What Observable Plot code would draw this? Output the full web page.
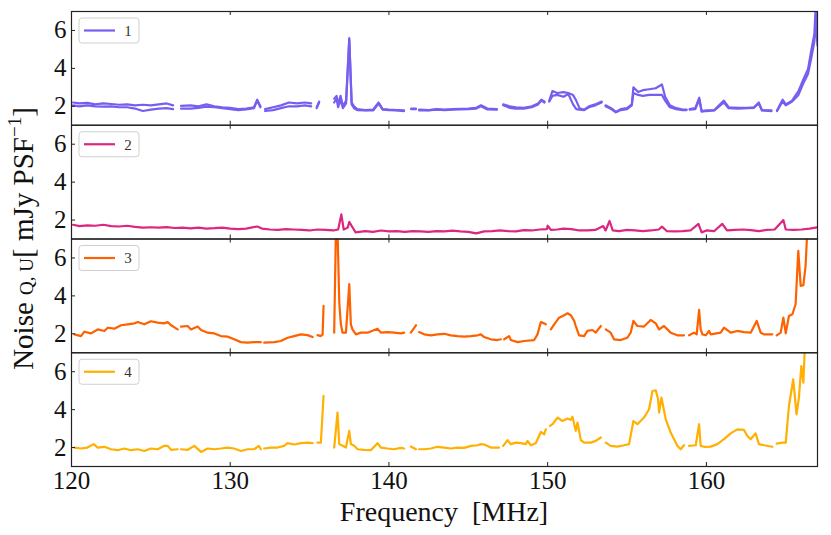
<!DOCTYPE html>
<html><head><meta charset="utf-8">
<script src="https://cdn.jsdelivr.net/npm/d3@7"></script>
<script src="https://cdn.jsdelivr.net/npm/@observablehq/plot@0.6"></script>
<style>body{margin:0;background:#fff} #chart svg{display:block}</style>
</head><body><div id="chart"></div>
<script>
const panels = ["1", "2", "3", "4"];
const colors = ["#785EF0", "#DC267F", "#FE6100", "#FFB000"];
const xTicks = [120, 130, 140, 150, 160];
const yTicks = [2, 4, 6];

// Panel 1 (two traces)
const freq1 = [120.1,120.5,121.0,121.5,122.0,122.5,123.0,123.5,124.0,124.5,125.0,125.5,126.0,126.4,126.7,126.9,127.5,128.0,128.5,129.0,129.5,130.0,130.5,131.0,131.5,131.7,131.9,132.0,132.2,132.7,133.2,133.7,134.2,134.7,135.1,135.3,135.45,135.6,135.7,136.55,136.7,136.8,136.95,137.1,137.3,137.5,137.65,137.8,138.0,138.5,139.0,139.35,139.6,140.0,140.5,140.95,141.1,141.4,141.7,141.8,141.9,142.5,143.0,143.5,144.0,144.5,145.0,145.5,145.8,146.2,146.8,146.95,147.2,147.6,148.0,148.5,149.0,149.4,149.6,149.8,149.95,150.1,150.3,150.6,151.0,151.3,151.6,151.8,152.0,152.3,152.6,153.0,153.4,153.5,153.65,154.0,154.3,154.6,155.0,155.3,155.4,155.7,156.0,156.4,156.8,157.2,157.4,157.7,158.1,158.5,158.75,158.85,158.95,159.3,159.55,159.7,160.0,160.5,161.1,161.4,162.0,162.6,163.0,163.3,163.5,164.1,164.25,164.45,164.8,165.0,165.4,165.8,166.1,166.4,166.6,166.8,166.9,167.0];
const noise1a = [2.2,2.15,2.18,2.1,2.15,2.12,2.08,2.1,2.05,2.08,2.05,2.1,2.15,2.05,null,2.02,2.05,2.0,2.1,2.0,1.95,1.92,1.85,1.88,1.95,2.35,2.0,null,1.85,1.95,2.05,2.2,2.15,2.2,2.15,null,1.95,2.25,null,2.4,2.55,2.1,2.55,2.0,2.3,5.6,2.2,2.0,1.85,1.8,1.82,2.2,1.85,1.82,1.8,1.78,null,1.88,1.88,null,1.82,1.8,1.85,1.83,1.85,1.87,1.88,1.92,2.05,1.88,1.85,null,2.1,2.0,1.95,1.92,2.0,2.15,2.35,2.25,null,2.3,2.8,2.7,2.75,2.7,2.6,2.3,1.9,1.82,2.0,2.1,2.25,null,2.05,1.9,1.7,1.85,1.9,2.1,3.0,2.75,2.85,2.9,2.95,3.15,2.5,2.05,1.9,1.83,1.82,null,1.85,1.9,2.45,1.75,1.78,1.8,2.3,1.95,1.92,1.92,1.95,2.2,1.8,1.78,null,1.78,2.35,2.1,2.3,2.8,3.4,3.95,4.9,5.8,7.5,5.5];
const noise1b = [2.05,2.0,2.05,2.0,1.98,2.0,1.95,1.95,1.88,1.75,1.82,1.88,1.9,1.85,null,1.88,1.88,1.92,1.98,1.95,1.9,1.85,1.8,1.83,1.9,2.3,1.95,null,1.75,1.8,1.9,2.0,2.0,2.05,2.0,null,1.9,2.2,null,2.2,2.4,1.95,2.35,1.9,2.15,5.5,2.1,1.9,1.8,1.78,1.78,2.15,1.82,1.8,1.78,1.75,null,1.85,1.85,null,1.78,1.78,1.82,1.8,1.82,1.83,1.85,1.88,2.0,1.83,1.82,null,2.05,1.92,1.88,1.88,1.95,2.1,2.3,2.2,null,2.25,2.55,2.6,2.5,2.65,2.1,1.85,1.82,1.8,1.95,2.05,2.2,null,2.0,1.85,1.68,1.8,1.85,2.05,2.7,2.6,2.55,2.6,2.6,2.6,2.3,1.95,1.85,1.8,1.8,null,1.82,1.85,2.35,1.72,1.75,1.78,2.2,1.9,1.88,1.9,1.92,2.15,1.78,1.75,null,1.75,2.25,2.05,2.25,2.6,3.2,3.7,4.5,5.4,6.5,5.2];

// Panel 2
const freq2 = [120.1,120.5,121.0,121.5,122.0,122.5,123.0,123.5,124.0,124.5,125.0,125.5,126.0,126.5,127.0,127.5,128.0,128.5,129.0,129.5,130.0,130.5,131.0,131.7,132.0,132.5,133.0,133.5,134.0,134.5,135.0,135.5,136.0,136.5,136.8,137.0,137.15,137.4,137.5,137.7,137.9,138.5,139.0,139.5,140.0,140.5,141.0,141.5,142.0,142.5,143.0,143.5,144.0,144.5,145.0,145.5,146.0,146.5,147.0,147.5,148.0,148.5,149.0,149.5,149.95,150.0,150.2,150.6,151.0,151.5,152.0,152.5,153.0,153.5,153.65,153.9,154.1,154.5,155.0,155.5,156.0,156.5,157.0,157.2,157.5,158.0,158.5,159.0,159.5,159.7,160.0,160.5,161.0,161.3,161.8,162.3,162.8,163.3,163.8,164.3,164.85,165.0,165.5,166.0,166.5,167.0];
const noise2 = [1.75,1.68,1.72,1.7,1.75,1.68,1.66,1.7,1.64,1.6,1.62,1.6,1.63,1.58,1.6,1.56,1.6,1.55,1.57,1.6,1.55,1.52,1.55,1.66,1.55,1.5,1.48,1.52,1.5,1.48,1.45,1.5,1.48,1.45,1.5,2.3,1.5,1.6,1.9,1.62,1.35,1.42,1.38,1.45,1.4,1.42,1.38,1.42,1.4,1.38,1.42,1.4,1.44,1.4,1.38,1.3,1.4,1.42,1.45,1.42,1.4,1.47,1.45,1.5,1.52,1.7,1.48,1.5,1.55,1.52,1.45,1.45,1.48,1.68,1.45,1.95,1.45,1.42,1.48,1.45,1.42,1.45,1.5,1.65,1.42,1.4,1.42,1.45,1.8,1.35,1.45,1.42,1.8,1.45,1.48,1.5,1.47,1.42,1.48,1.5,2.0,1.5,1.48,1.5,1.55,1.62];

// Panel 3
const freq3 = [120.18,120.6,120.81,121.23,121.65,122.07,122.28,122.7,123.12,123.54,123.96,124.17,124.59,125.0,125.43,125.85,126.06,126.27,126.69,126.8,126.9,127.32,127.53,127.95,128.16,128.58,129.0,129.41,129.83,130.25,130.67,131.09,131.51,131.93,132.05,132.14,132.77,133.19,133.61,134.03,134.45,134.87,135.19,135.35,135.5,135.71,135.82,135.88,136.2,136.55,136.66,136.76,136.87,136.97,137.08,137.29,137.5,137.6,137.7,137.92,138.23,138.65,139.28,139.49,139.91,140.33,140.75,140.96,141.2,141.38,141.7,141.8,141.9,142.22,142.64,143.06,143.48,143.9,144.32,144.74,145.16,145.58,145.79,146.0,146.42,146.84,147.05,147.15,147.26,147.57,147.68,148.1,148.52,148.94,149.15,149.36,149.57,149.78,149.88,150.0,150.2,150.41,150.72,151.04,151.25,151.46,151.67,151.77,151.98,152.3,152.5,152.82,153.03,153.35,153.5,153.66,153.97,154.18,154.6,155.02,155.23,155.4,155.65,156.07,156.49,156.81,157.02,157.33,157.75,158.17,158.59,158.75,158.91,159.22,159.39,159.54,159.64,159.75,159.96,160.17,160.27,160.9,161.11,161.53,161.95,162.37,162.79,163.17,163.42,163.63,164.15,164.3,164.43,164.68,164.85,165.0,165.2,165.42,165.62,165.79,165.94,166.11,166.25,166.36];
const noise3 = [1.97,1.88,2.11,2.02,2.23,2.15,2.32,2.27,2.45,2.5,2.55,2.62,2.5,2.66,2.59,2.55,2.62,2.45,2.23,null,2.38,2.41,2.23,2.38,2.2,2.06,2.02,1.88,1.85,1.71,1.56,1.53,1.56,1.56,null,1.53,1.56,1.62,1.79,1.88,1.97,1.93,1.83,null,1.93,1.88,1.97,3.47,null,2.06,7.5,7.5,3.65,2.5,2.06,2.06,4.62,2.5,2.23,1.97,2.06,2.06,2.27,2.06,2.09,2.06,2.02,2.06,null,2.06,2.45,null,2.09,1.97,1.92,1.97,2.0,1.92,1.88,1.85,1.88,1.92,1.97,1.83,1.71,1.67,1.71,null,1.71,1.88,1.67,1.56,1.62,1.65,1.67,1.97,2.62,2.55,2.5,null,2.23,2.5,2.85,2.98,3.08,2.98,2.68,2.41,1.92,1.88,2.15,2.2,2.06,2.41,null,2.23,2.06,1.71,1.67,1.79,2.06,2.68,2.41,2.38,2.73,2.55,2.23,2.41,2.06,1.92,1.92,null,1.92,2.06,1.97,3.26,2.23,1.97,1.92,2.15,1.97,2.06,2.32,2.06,2.15,2.09,2.06,2.68,2.06,1.97,1.97,null,1.92,2.06,2.85,2.02,2.94,3.03,3.56,6.38,4.53,4.56,5.59,7.5];

// Panel 4
const freq4 = [120.18,120.6,121.0,121.4,121.65,122.07,122.49,122.91,123.33,123.75,124.17,124.59,125.0,125.43,125.85,126.06,126.27,126.69,126.8,126.9,127.32,127.74,128.16,128.58,129.0,129.41,129.83,130.25,130.67,131.09,131.51,131.8,131.93,132.05,132.14,132.56,132.98,133.4,133.61,134.03,134.45,134.87,135.19,135.35,135.5,135.71,135.88,136.2,136.55,136.76,136.87,137.08,137.29,137.5,137.6,137.81,138.02,138.44,138.86,139.28,139.49,139.91,140.33,140.75,140.96,141.2,141.38,141.7,141.8,141.9,142.22,142.64,143.06,143.48,143.9,144.32,144.74,145.16,145.58,145.79,146.0,146.42,146.94,147.05,147.2,147.47,147.68,147.99,148.31,148.62,148.73,148.94,149.25,149.57,149.78,149.88,150.0,150.15,150.3,150.62,150.93,151.25,151.46,151.56,151.77,151.88,152.09,152.3,152.72,153.03,153.35,153.5,153.66,153.97,154.39,154.81,155.13,155.4,155.65,156.07,156.39,156.6,156.81,156.96,157.02,157.17,157.44,157.75,158.17,158.38,158.59,158.75,158.91,159.33,159.54,159.64,159.85,160.27,160.69,161.11,161.53,161.95,162.37,162.58,162.79,163.1,163.31,163.63,164.15,164.3,164.43,164.79,165.0,165.2,165.47,165.68,165.83,165.98,166.11,166.21];
const noise4 = [2.0,1.95,2.0,2.18,2.0,2.04,1.91,1.86,1.95,1.86,1.91,1.82,1.95,1.91,2.09,2.09,1.88,1.91,null,1.91,1.88,2.09,1.77,1.95,1.91,1.95,2.0,1.95,1.82,1.91,1.91,2.09,1.91,null,1.95,2.0,2.0,2.09,2.23,2.16,2.23,2.26,2.23,null,2.26,2.26,4.72,null,2.0,3.84,2.18,2.09,2.0,2.88,2.18,2.09,1.91,1.88,1.86,2.23,2.0,1.95,1.91,1.98,1.95,null,2.05,1.91,null,1.91,1.91,1.95,2.04,2.0,1.95,2.0,1.98,2.09,2.12,2.18,2.16,2.0,2.0,null,2.09,2.39,2.18,2.26,2.23,2.18,2.35,2.12,2.23,2.82,2.7,2.96,null,3.14,3.23,3.58,3.4,3.53,3.46,3.63,2.88,3.32,2.39,2.26,2.26,2.35,2.53,null,2.26,2.09,2.05,2.12,2.18,3.4,3.23,3.58,4.02,4.98,5.02,4.54,3.84,4.63,3.49,2.79,2.09,1.91,2.12,null,2.09,2.12,3.23,2.09,2.04,2.05,2.18,2.44,2.75,2.96,2.93,2.61,2.44,2.75,2.18,2.12,2.04,null,2.21,2.26,2.26,4.19,5.6,3.75,4.63,6.3,5.42,7.5];

const rows = (p, fs, vs, s) => fs.map((f, i) => ({p, s, f, v: vs[i]}));
const series = [
  {data: rows("1", freq1, noise1a, "a"), color: colors[0]},
  {data: rows("1", freq1, noise1b, "b"), color: colors[0]},
  {data: rows("2", freq2, noise2, "a"), color: colors[1]},
  {data: rows("3", freq3, noise3, "a"), color: colors[2]},
  {data: rows("4", freq4, noise4, "a"), color: colors[3]}
];

const W = 831, H = 535, ML = 71, MR = 14, MT = 11, MB = 69;
const PW = W - ML - MR, PH = (H - MT - MB) / 4;
const font = "'Liberation Serif', 'DejaVu Serif', serif";

const plot = Plot.plot({
  width: W, height: H,
  marginLeft: ML, marginRight: MR, marginTop: MT, marginBottom: MB,
  style: {fontFamily: font, background: "white", color: "#222"},
  x: {domain: [120, 167]},
  y: {domain: [1, 7]},
  fy: {domain: panels, padding: 0, axis: null, round: false},
  marks: [
    ...series.map(d => Plot.line(d.data, {x: "f", y: "v", fy: "p", z: "s", stroke: d.color, strokeWidth: 2.2, clip: true, strokeLinejoin: "round"})),
    Plot.ruleX(xTicks.slice(1), {insetTop: PH - 4, stroke: "#222", strokeWidth: 1}),
    Plot.ruleX(xTicks.slice(1), {insetBottom: PH - 4, stroke: "#222", strokeWidth: 1}),
    Plot.ruleY(yTicks, {insetRight: PW - 4, stroke: "#222", strokeWidth: 1}),
    Plot.frame({stroke: "#222", strokeWidth: 1.2}),
    Plot.axisY(yTicks, {tickSize: 0, tickPadding: 5, fontSize: 25, label: null, fill: "#111"}),
    Plot.axisX(xTicks, {tickSize: 0, tickPadding: 5, fontSize: 25, label: null, fill: "#111"})
  ]
});
document.getElementById("chart").appendChild(plot);

const svg = d3.select(plot);
panels.forEach((p, i) => {
  const top = MT + i * PH;
  const g = svg.append("g");
  g.append("rect").attr("x", 79).attr("y", top + 7).attr("width", 60).attr("height", 25)
    .attr("rx", 3).attr("fill", "white").attr("fill-opacity", 0.85).attr("stroke", "#d0d0d0");
  g.append("line").attr("x1", 84).attr("x2", 115).attr("y1", top + 19.5).attr("y2", top + 19.5)
    .attr("stroke", colors[i]).attr("stroke-width", 2.2);
  g.append("text").attr("x", 128).attr("y", top + 19.5).attr("dy", "0.35em")
    .attr("text-anchor", "middle").attr("font-size", 15).attr("font-family", font).attr("fill", "#333").text(p);
});

svg.append("text").attr("x", ML + PW / 2).attr("y", 521).attr("text-anchor", "middle")
  .attr("font-size", 28).attr("font-family", font).attr("fill", "#111").text("Frequency  [MHz]");

const yl = svg.append("text").attr("transform", `translate(33,${MT + 2 * PH}) rotate(-90)`)
  .attr("text-anchor", "middle").attr("font-size", 29).attr("font-family", font).attr("fill", "#111");
yl.append("tspan").text("Noise ");
yl.append("tspan").attr("font-size", 19).text("Q, U");
yl.append("tspan").text("[ mJy PSF");
yl.append("tspan").attr("font-size", 19).attr("dy", -12).text("−1");
yl.append("tspan").attr("dy", 12).text("]");
</script>
</body></html>
